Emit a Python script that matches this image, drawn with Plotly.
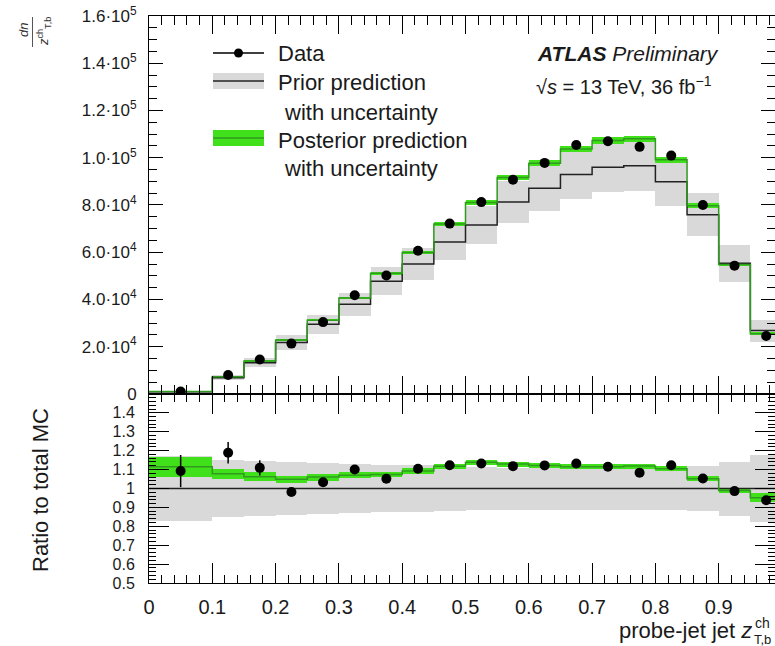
import plotly.graph_objects as go

# ---------------- data ----------------
edges = [0.0, 0.1, 0.15, 0.2, 0.25, 0.3, 0.35, 0.4, 0.45, 0.5, 0.55,
         0.6, 0.65, 0.7, 0.75, 0.8, 0.85, 0.9, 0.95, 1.0]

prior = [900, 6800, 13200, 21800, 29500, 38000, 47700, 55000, 64300, 71500,
         81200, 87100, 92900, 96000, 96600, 89800, 75900, 55300, 26800]
prior_rel_unc = [0.173, 0.15, 0.146, 0.138, 0.135, 0.129, 0.125, 0.122, 0.118, 0.115,
                 0.111, 0.111, 0.111, 0.111, 0.111, 0.115, 0.12, 0.143, 0.175]

posterior = [1000, 7300, 13950, 22800, 31200, 40600, 51100, 59900, 71900, 81000,
             91600, 97700, 103700, 107300, 108000, 99100, 79700, 54800, 25500]
post_rel_unc = [0.047, 0.026, 0.022, 0.02, 0.017, 0.015, 0.014, 0.013, 0.012, 0.012,
                0.012, 0.012, 0.012, 0.012, 0.012, 0.012, 0.013, 0.015, 0.026]

data = [1000, 8000, 14600, 21300, 30400, 41800, 50100, 60600, 72100, 81200,
        90700, 97800, 105400, 107000, 104600, 100900, 80000, 54300, 24500]

prior_ratio = [1.0] * 19
post_ratio = [1.115, 1.078, 1.062, 1.048, 1.06, 1.07, 1.074, 1.092, 1.118, 1.139,
              1.129, 1.122, 1.115, 1.115, 1.119, 1.104, 1.051, 0.989, 0.951]
data_ratio = [1.092, 1.189, 1.109, 0.981, 1.033, 1.100, 1.051, 1.104, 1.123, 1.132,
              1.118, 1.122, 1.132, 1.115, 1.083, 1.123, 1.053, 0.986, 0.938]
data_ratio_err = [0.085, 0.057, 0.04, 0.015, 0.012, 0.01, 0.009, 0.008, 0.008, 0.008,
                  0.008, 0.008, 0.008, 0.008, 0.008, 0.008, 0.009, 0.01, 0.012]

top_tickvals = [0, 20000, 40000, 60000, 80000, 100000, 120000, 140000, 160000]
top_ticktext = ["0", "2.0·10<sup>4</sup>", "4.0·10<sup>4</sup>", "6.0·10<sup>4</sup>",
                "8.0·10<sup>4</sup>", "1.0·10<sup>5</sup>", "1.2·10<sup>5</sup>",
                "1.4·10<sup>5</sup>", "1.6·10<sup>5</sup>"]
ratio_tickvals = [0.5, 0.6, 0.7, 0.8, 0.9, 1.0, 1.1, 1.2, 1.3, 1.4]
ratio_ticktext = ["0.5", "0.6", "0.7", "0.8", "0.9", "1", "1.1", "1.2", "1.3", "1.4"]
x_tickvals = [0, 0.1, 0.2, 0.3, 0.4, 0.5, 0.6, 0.7, 0.8, 0.9]
x_ticktext = ["0", "0.1", "0.2", "0.3", "0.4", "0.5", "0.6", "0.7", "0.8", "0.9"]

# ---------------- style ----------------
GREY = "#d9d9d9"
GREEN = "#40e01a"
DKGREEN = "#2f9a1f"
FONT = "Liberation Sans, Arial, Helvetica, sans-serif"
W, H = 775, 646
L, R, T, B = 149, 0, 16, 63

centers = [(edges[i] + edges[i + 1]) / 2 for i in range(len(edges) - 1)]
widths = [edges[i + 1] - edges[i] for i in range(len(edges) - 1)]


def band(values, rel, color, xa, ya):
    lo = [v * (1 - r) for v, r in zip(values, rel)]
    hi = [v * r * 2 for v, r in zip(values, rel)]
    return go.Bar(x=centers, y=hi, base=lo, width=widths, xaxis=xa, yaxis=ya,
                  marker=dict(color=color, line=dict(width=0)), hoverinfo="skip")


def step(values, color, width, xa, ya):
    return go.Scatter(x=edges, y=list(values) + [values[-1]], mode="lines",
                      line=dict(color=color, width=width, shape="hv"),
                      xaxis=xa, yaxis=ya, hoverinfo="skip")


fig = go.Figure()
# top panel
fig.add_trace(band(prior, prior_rel_unc, GREY, "x", "y"))
fig.add_trace(band(posterior, post_rel_unc, GREEN, "x", "y"))
fig.add_trace(step(prior, "#222222", 1.5, "x", "y"))
fig.add_trace(step(posterior, DKGREEN, 1.5, "x", "y"))
fig.add_trace(go.Scatter(x=centers, y=data, mode="markers", xaxis="x", yaxis="y",
                         marker=dict(color="black", size=10)))
# ratio panel
fig.add_trace(band(prior_ratio, prior_rel_unc, GREY, "x2", "y2"))
fig.add_trace(band(post_ratio, post_rel_unc, GREEN, "x2", "y2"))
fig.add_trace(step(prior_ratio, "#222222", 1.5, "x2", "y2"))
fig.add_trace(step(post_ratio, DKGREEN, 1.5, "x2", "y2"))
fig.add_trace(go.Scatter(x=centers, y=data_ratio, mode="markers", xaxis="x2", yaxis="y2",
                         marker=dict(color="black", size=10),
                         error_y=dict(type="data", array=data_ratio_err, color="black",
                                      thickness=1.5, width=0)))

xrange = [0, (W - L - R) / 633.0]
split = (583 - 393.9) / (H - T - B)

axis_common = dict(showline=True, linecolor="black", linewidth=1, mirror="allticks",
                   ticks="inside", tickcolor="black", showgrid=False, zeroline=False)

fig.update_layout(
    width=W, height=H, margin=dict(l=L, r=R, t=T, b=B),
    paper_bgcolor="white", plot_bgcolor="white",
    showlegend=False, barmode="overlay", bargap=0,
    font=dict(family=FONT, color="#1a1a1a"),
    xaxis=dict(domain=[0, 1], anchor="y", range=xrange, matches="x2",
               tickvals=x_tickvals, showticklabels=False, ticklen=18, tickwidth=1,
               minor=dict(dtick=0.02, ticks="inside", ticklen=9, tickcolor="black"),
               **axis_common),
    yaxis=dict(domain=[split, 1], anchor="x", range=[0, 160000],
               tickvals=top_tickvals, ticktext=top_ticktext, ticklen=14,
               tickfont=dict(size=17), ticklabelstandoff=8,
               minor=dict(dtick=5000, ticks="inside", ticklen=8, tickcolor="black"),
               **axis_common),
    xaxis2=dict(domain=[0, 1], anchor="y2", range=xrange,
                tickvals=x_tickvals, ticktext=x_ticktext, ticklen=20,
                tickfont=dict(size=20), ticklabelstandoff=6,
                minor=dict(dtick=0.02, ticks="inside", ticklen=8, tickcolor="black"),
                **axis_common),
    yaxis2=dict(domain=[0, split], anchor="x2", range=[0.5, 1.5],
                tickvals=ratio_tickvals, ticktext=ratio_ticktext, ticklen=20,
                tickfont=dict(size=16), ticklabelstandoff=10,
                minor=dict(dtick=0.02, ticks="inside", ticklen=7, tickcolor="black"),
                **axis_common),
)


def px(x):
    return (x - L) / (W - L - R)


def py(y):
    return (H - B - y) / (H - T - B)


shapes = []
annotations = []

# legend: Data
shapes.append(dict(type="line", xref="paper", yref="paper", x0=px(213), x1=px(264),
                   y0=py(53), y1=py(53), line=dict(color="black", width=1.5)))
shapes.append(dict(type="circle", xref="paper", yref="paper", x0=px(234), x1=px(243),
                   y0=py(57.5), y1=py(48.5), fillcolor="black", line=dict(color="black", width=0)))
# legend: prior
shapes.append(dict(type="rect", xref="paper", yref="paper", x0=px(213), x1=px(264),
                   y0=py(89), y1=py(73), fillcolor=GREY, line=dict(width=0)))
shapes.append(dict(type="line", xref="paper", yref="paper", x0=px(213), x1=px(264),
                   y0=py(81), y1=py(81), line=dict(color="#222222", width=1.5)))
# legend: posterior
shapes.append(dict(type="rect", xref="paper", yref="paper", x0=px(213), x1=px(264),
                   y0=py(146), y1=py(130), fillcolor=GREEN, line=dict(width=0)))
shapes.append(dict(type="line", xref="paper", yref="paper", x0=px(213), x1=px(264),
                   y0=py(138), y1=py(138), line=dict(color=DKGREEN, width=1.5)))


def txt(x, y, s, size=22, anchor="left", angle=0):
    annotations.append(dict(xref="paper", yref="paper", x=px(x), y=py(y), text=s,
                            showarrow=False, xanchor=anchor, yanchor="middle",
                            textangle=angle, font=dict(size=size, family=FONT, color="#1a1a1a")))


txt(276, 53, "Data")
txt(276, 82, "Prior prediction")
txt(282, 112, "with uncertainty")
txt(276, 140, "Posterior prediction")
txt(282, 168, "with uncertainty")

txt(535, 53, "<b><i>ATLAS</i></b> <i>Preliminary</i>", size=21)
txt(534, 85, "√<i>s</i> = 13 TeV, 36 fb<sup>−1</sup>", size=20)

# y titles
txt(40, 490, "Ratio to total MC", size=22, anchor="center", angle=-90)
annotations.append(dict(xref="paper", yref="paper", x=px(23), y=py(30), text="<i>dn</i>",
                        showarrow=False, xanchor="center", yanchor="middle", textangle=-90,
                        font=dict(size=13, family=FONT, color="#333")))
annotations.append(dict(xref="paper", yref="paper", x=px(44), y=py(31),
                        text="<i>z</i><sup>ch</sup><sub>T,b</sub>",
                        showarrow=False, xanchor="center", yanchor="middle", textangle=-90,
                        font=dict(size=13, family=FONT, color="#333")))
shapes.append(dict(type="line", xref="paper", yref="paper", x0=px(32.5), x1=px(32.5),
                   y0=py(17), y1=py(47), line=dict(color="#555", width=1)))

# x title
txt(617, 630, "probe-jet jet <i>z</i>", size=22)
txt(753, 623, "ch", size=14)
txt(752, 639, "T,b", size=13)

fig.update_layout(shapes=shapes, annotations=annotations)
fig.write_html("out.html")
